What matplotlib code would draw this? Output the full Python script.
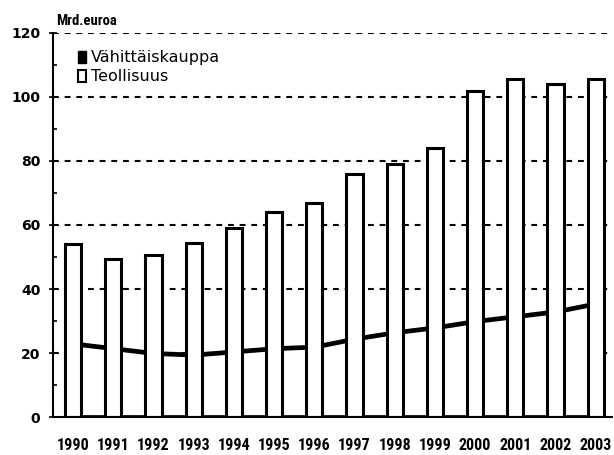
import matplotlib
matplotlib.use("Agg")
import matplotlib.pyplot as plt
from matplotlib.patches import Patch
from matplotlib import font_manager
import numpy as np

years = ["1990", "1991", "1992", "1993", "1994", "1995", "1996",
         "1997", "1998", "1999", "2000", "2001", "2002", "2003"]
teollisuus = [54, 49.5, 50.5, 54.5, 59, 64, 67, 76, 79, 84, 102, 105.5, 104, 105.5]
vahittaiskauppa = [23, 21.5, 20, 19.5, 20.5, 21.5, 22, 24.5, 26.5, 28, 30, 31.5, 33, 35.5]
yticks = [0, 20, 40, 60, 80, 100, 120]

available = {f.name for f in font_manager.fontManager.ttflist}
narrow_name = 'Liberation Sans'
for cand in ['Liberation Sans Narrow', 'Roboto Condensed', 'Open Sans Condensed']:
    if cand in available:
        narrow_name = cand
        break
narrow = [narrow_name, 'DejaVu Sans']
yr_size = 11.5 if narrow_name != 'Liberation Sans' else 9.2

fig = plt.figure(figsize=(6.14, 4.55), dpi=100)
ax = fig.add_axes([0.0863, 0.0835, 0.9107, 0.844])

x = np.arange(len(years))

# gridlines
for yv in yticks[1:]:
    ax.axhline(yv, color='black', lw=1.5, linestyle=(0, (2.8, 2.8)), zorder=0.5)

ax.fill_between(x, 0, vahittaiskauppa, facecolor='white', edgecolor='black',
                linewidth=3.4, zorder=1)
ax.bar(x, teollisuus, width=0.4, facecolor='white', edgecolor='black',
       linewidth=2.2, zorder=2)

ax.set_xlim(-0.5, 13.41)
ax.set_ylim(0, 120)
ax.set_yticks(yticks)
ax.set_yticks(range(10, 120, 20), minor=True)
ax.set_xticks(x)
ax.set_xticklabels(years, family=narrow, fontsize=yr_size, fontweight='bold')
ax.tick_params(axis='x', length=0, pad=15)
ax.tick_params(axis='y', which='major', direction='inout', length=6, width=1.2,
               pad=6, labelsize=10)
ax.tick_params(axis='y', which='minor', direction='in', length=3, width=1.2)
for lab in ax.get_yticklabels():
    lab.set_fontweight('bold')

for s in ['top', 'right']:
    ax.spines[s].set_visible(False)
ax.spines['left'].set_linewidth(1.5)
ax.spines['bottom'].set_linewidth(1.5)

ax.text(0.006, 1.012, "Mrd.euroa", transform=ax.transAxes, family=narrow,
        fontsize=10.5, fontweight='bold', ha='left', va='bottom')

handles = [Patch(facecolor='black', edgecolor='black'),
           Patch(facecolor='white', edgecolor='black', linewidth=1.5)]
ax.legend(handles, ["Vähittäiskauppa", "Teollisuus"], loc='upper left',
          bbox_to_anchor=(0.044, 0.955), frameon=False, fontsize=11.5,
          handlelength=0.55, handleheight=0.75, handletextpad=0.3,
          labelspacing=0.25, borderaxespad=0, borderpad=0)

fig.savefig("out.png", dpi=100)
